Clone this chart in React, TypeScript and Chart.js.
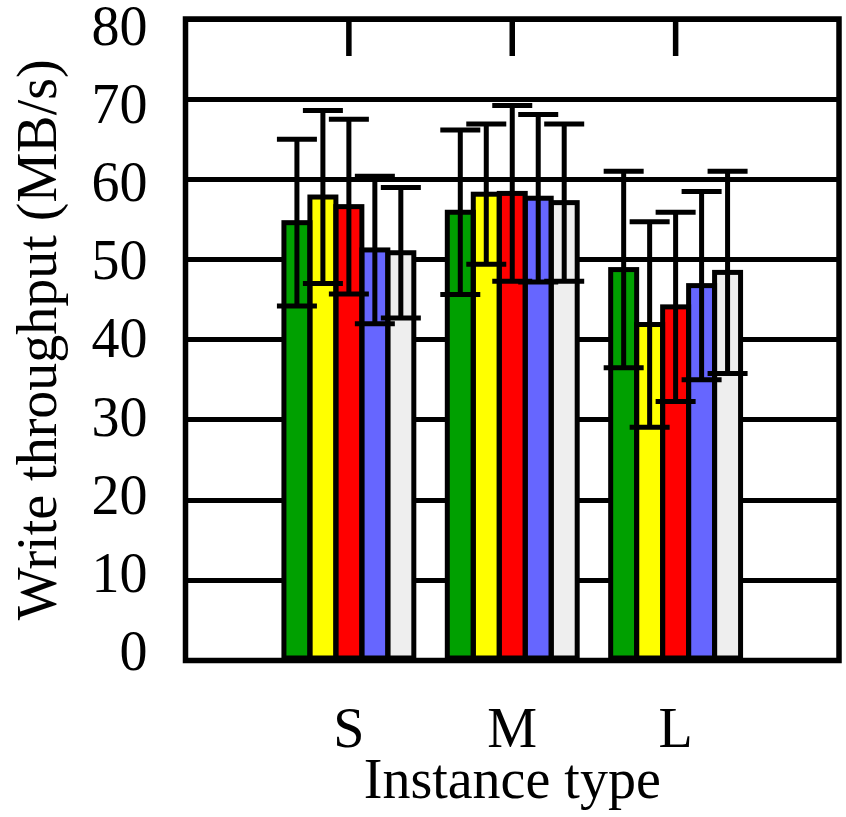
import React, { useEffect, useRef } from "react";
import { Chart, registerables } from "chart.js";

Chart.register(...registerables);

// Instance sizes along the x axis (padded with empty slots on each side)
const categories = ["S", "M", "L"];
const xLabels = ["", ...categories, ""];

// Mean write throughput (MB/s) per series, one value per instance type
const series1 = [54.6, 55.9, 48.75];
const series2 = [57.8, 58.15, 41.9];
const series3 = [56.6, 58.25, 44.1];
const series4 = [51.2, 57.65, 46.75];
const series5 = [50.85, 57.1, 48.4];

// Error bar half-widths (MB/s)
const err1 = [10.4, 10.25, 12.25];
const err2 = [10.8, 8.75, 12.8];
const err3 = [10.9, 10.95, 11.8];
const err4 = [9.2, 10.45, 11.75];
const err5 = [8.15, 9.8, 12.6];

const seriesNames = ["Series 1", "Series 2", "Series 3", "Series 4", "Series 5"];
const seriesValues = [series1, series2, series3, series4, series5];
const seriesErrors = [err1, err2, err3, err4, err5];
const seriesColors = ["#00a000", "#ffff00", "#ff0000", "#6666ff", "#eeeeee"];

const yTicks = [0, 10, 20, 30, 40, 50, 60, 70, 80];

const FONT = "'Liberation Serif', 'DejaVu Serif', serif";

// Outlines every bar with a centred stroke, then draws the error bars on top
const barDecorations = {
  id: "barDecorations",
  afterDatasetsDraw(chart: any) {
    const ctx = chart.ctx;
    const yScale = chart.scales.y;
    ctx.save();
    ctx.strokeStyle = "#000";
    ctx.lineWidth = 5;
    chart.data.datasets.forEach((ds: any, i: number) => {
      const meta = chart.getDatasetMeta(i);
      meta.data.forEach((el: any, j: number) => {
        if (ds.data[j] == null) return;
        const p = el.getProps(["x", "y", "base", "width"], true);
        ctx.strokeRect(p.x - p.width / 2, p.y, p.width, p.base - p.y);
      });
    });
    ctx.lineCap = "butt";
    chart.data.datasets.forEach((ds: any, i: number) => {
      const meta = chart.getDatasetMeta(i);
      meta.data.forEach((el: any, j: number) => {
        const v = ds.data[j];
        if (v == null) return;
        const e = ds.errors[j];
        const x = el.getProps(["x"], true).x;
        const yHi = yScale.getPixelForValue(v + e);
        const yLo = yScale.getPixelForValue(v - e);
        const half = 20;
        ctx.beginPath();
        ctx.moveTo(x, yHi);
        ctx.lineTo(x, yLo);
        ctx.moveTo(x - half, yHi);
        ctx.lineTo(x + half, yHi);
        ctx.moveTo(x - half, yLo);
        ctx.lineTo(x + half, yLo);
        ctx.stroke();
      });
    });
    ctx.restore();
  },
};

// Plot frame and the category tick marks hanging from the top edge
const frame = {
  id: "frame",
  afterDraw(chart: any) {
    const { ctx, chartArea } = chart;
    const xScale = chart.scales.x;
    ctx.save();
    ctx.strokeStyle = "#000";
    ctx.lineWidth = 5.5;
    ctx.strokeRect(
      chartArea.left,
      chartArea.top,
      chartArea.right - chartArea.left,
      chartArea.bottom - chartArea.top
    );
    categories.forEach((_, k) => {
      const x = xScale.getPixelForValue(k + 1);
      ctx.beginPath();
      ctx.moveTo(x, chartArea.top);
      ctx.lineTo(x, chartArea.top + 37);
      ctx.stroke();
    });
    ctx.restore();
  },
};

export default function App() {
  const canvasRef = useRef<HTMLCanvasElement | null>(null);

  useEffect(() => {
    const canvas = canvasRef.current;
    if (!canvas) return;

    const datasets = seriesValues.map((vals, i) => ({
      label: seriesNames[i],
      data: [null, ...vals, null],
      errors: [0, ...seriesErrors[i], 0],
      backgroundColor: seriesColors[i],
      borderWidth: 0,
      inflateAmount: 0,
      categoryPercentage: 0.795,
      barPercentage: 1.0,
    }));

    const chart = new Chart(canvas, {
      type: "bar",
      data: { labels: xLabels, datasets: datasets as any },
      options: {
        animation: false,
        responsive: false,
        devicePixelRatio: 1,
        layout: { padding: { top: 19, right: 7, bottom: 0, left: 0 } },
        plugins: {
          legend: { display: false },
          tooltip: { enabled: false },
        },
        scales: {
          x: {
            type: "category",
            offset: false,
            grid: { display: false, drawTicks: false },
            border: { display: false },
            ticks: {
              color: "#000",
              font: { family: FONT, size: 56 },
              padding: 38.5,
              autoSkip: false,
              maxRotation: 0,
            },
            title: {
              display: true,
              text: "Instance type",
              color: "#000",
              font: { family: FONT, size: 56 },
              padding: { top: 0, bottom: 0 },
            },
            afterFit(scale: any) {
              scale.height = 156.5;
              scale.paddingLeft = 0;
              scale.paddingRight = 0;
            },
          },
          // value axis: positions the bars and draws the horizontal grid lines
          y: {
            position: "left",
            min: 0,
            max: 80,
            z: 1,
            afterBuildTicks(scale: any) {
              scale.ticks = yTicks.map((v) => ({ value: v }));
            },
            grid: { color: "#000", lineWidth: 5, drawTicks: false },
            border: { display: false },
            ticks: { display: false },
            afterFit(scale: any) {
              scale.width = 0;
              scale.paddingTop = 0;
              scale.paddingBottom = 0;
            },
          },
          // tick-label axis: carries the numbers and the axis title
          yLabels: {
            position: "left",
            min: -0.705,
            max: 81.475,
            afterBuildTicks(scale: any) {
              scale.ticks = yTicks.map((v) => ({ value: v }));
            },
            grid: { display: false, drawTicks: false },
            border: { display: false },
            ticks: {
              color: "#000",
              font: { family: FONT, size: 56 },
              padding: 38,
            },
            title: {
              display: true,
              text: "Write throughput (MB/s)",
              color: "#000",
              font: { family: FONT, size: 56 },
              padding: { top: 7.5, bottom: 0 },
            },
            afterFit(scale: any) {
              scale.width = 185.5;
              scale.paddingTop = 0;
              scale.paddingBottom = 0;
            },
          },
        },
      },
      plugins: [barDecorations, frame],
    });

    return () => chart.destroy();
  }, []);

  return (
    <div style={{ position: "fixed", left: 0, top: 0, width: 846, height: 817, background: "#fff" }}>
      <canvas ref={canvasRef} width={846} height={817} style={{ display: "block" }} />
    </div>
  );
}
